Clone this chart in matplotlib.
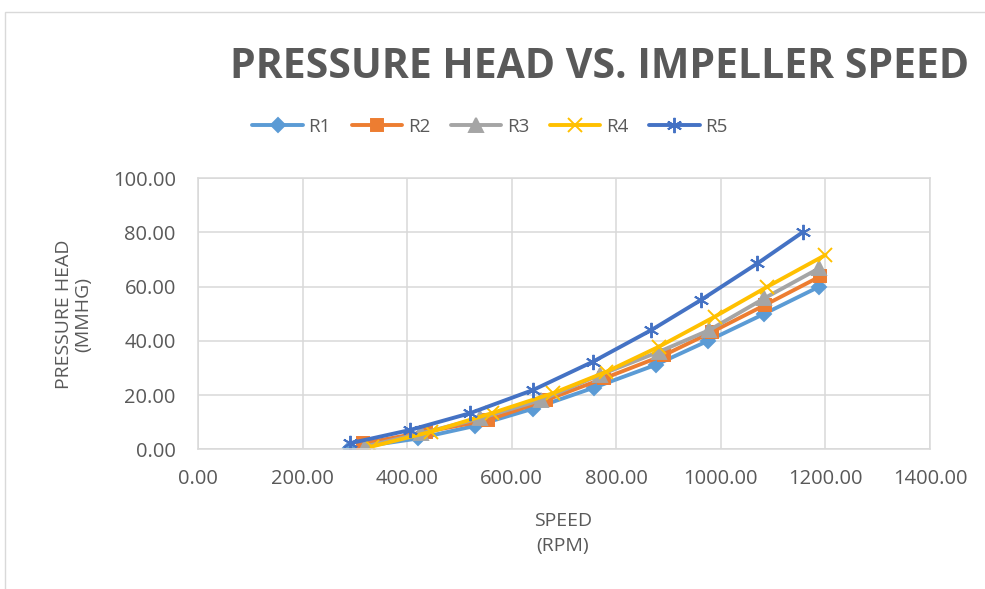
import matplotlib
matplotlib.use('Agg')
import matplotlib.pyplot as plt
from matplotlib.patches import Rectangle

plt.rcParams['font.family'] = ['Open Sans', 'DejaVu Sans']

# speed (rpm) and pressure head (mmHg) for each run
r1_speed = [290, 421, 529, 641, 758, 876, 975, 1083, 1188]
r1_head = [0.3, 4.0, 8.6, 15.0, 22.8, 31.2, 40.0, 50.0, 60.0]
r2_speed = [316, 437, 555, 666, 777, 892, 984, 1085, 1190]
r2_head = [2.2, 6.5, 10.8, 18.2, 26.2, 34.8, 43.4, 53.3, 63.8]
r3_speed = [319, 427, 539, 656, 768, 882, 978, 1083, 1188]
r3_head = [1.0, 5.9, 11.4, 18.2, 27.4, 36.0, 44.0, 55.7, 66.8]
r4_speed = [332, 446, 563, 679, 781, 882, 988, 1089, 1200]
r4_head = [1.0, 6.5, 13.4, 20.7, 28.6, 37.9, 48.9, 60.0, 71.7]
r5_speed = [290, 405, 520, 641, 755, 867, 962, 1070, 1158]
r5_head = [2.2, 7.1, 13.3, 21.9, 32.3, 44.0, 55.1, 68.6, 80.3]

x_ticks = [0, 200, 400, 600, 800, 1000, 1200, 1400]
y_ticks = [0, 20, 40, 60, 80, 100]

TXT = '#595959'
GRID = '#d9d9d9'

fig = plt.figure(figsize=(9.85, 5.89), dpi=100)
ax = fig.add_axes([198 / 985, 1 - 449.3 / 589, 732 / 985, 271 / 589])

# chart border
fig.patches.append(Rectangle((5 / 985, -0.1), 1.2, 1 - 12 / 589 + 0.1, transform=fig.transFigure,
                             fill=False, edgecolor=GRID, lw=1.0))

series = [
    ('R1', r1_speed, r1_head, '#5B9BD5', 'D', 7.5),
    ('R2', r2_speed, r2_head, '#ED7D31', 's', 8.5),
    ('R3', r3_speed, r3_head, '#A5A5A5', '^', 9.5),
    ('R4', r4_speed, r4_head, '#FFC000', 'x', 10),
    ('R5', r5_speed, r5_head, '#4472C4', (6, 2, 0), 11),
]
for name, xs, ys, col, mk, ms in series:
    ax.plot(xs, ys, color=col, lw=2.8, marker=mk, markersize=ms,
            markerfacecolor=col, markeredgecolor=col, markeredgewidth=1.4,
            solid_capstyle='round', label=name)

ax.set_xlim(0, 1400)
ax.set_ylim(0, 100)
ax.set_xticks(x_ticks)
ax.set_yticks(y_ticks)
ax.set_xticklabels([f'{v:.2f}' for v in x_ticks])
ax.set_yticklabels([f'{v:.2f}' for v in y_ticks])
ax.tick_params(length=0, labelsize=14.5, labelcolor=TXT)
ax.tick_params(axis='x', pad=14)
ax.tick_params(axis='y', pad=16)
ax.grid(color=GRID, lw=1.1)
ax.set_axisbelow(True)
for s in ax.spines.values():
    s.set_color(GRID)
    s.set_linewidth(1.1)

fig.text(74 / 985, 1 - 314 / 589, 'PRESSURE HEAD\n(MMHG)', rotation=90, ha='center', va='center',
         fontsize=14, color=TXT, linespacing=1.1)
fig.text(563 / 985, 1 - 533 / 589, 'SPEED\n(RPM)', ha='center', va='center',
         fontsize=14, color=TXT, linespacing=1.5)

fig.text(600 / 985, 1 - 68 / 589, 'PRESSURE HEAD VS. IMPELLER SPEED', ha='center', va='center',
         fontsize=29.5, fontweight='bold', color=TXT)

ax.legend(loc='center', bbox_to_anchor=(490 / 985, 1 - 127 / 589), bbox_transform=fig.transFigure,
          ncol=5, frameon=False, fontsize=13.5, labelcolor=TXT, handlelength=2.7,
          handletextpad=0.3, columnspacing=1.1)

fig.savefig('out.png', dpi=100)
